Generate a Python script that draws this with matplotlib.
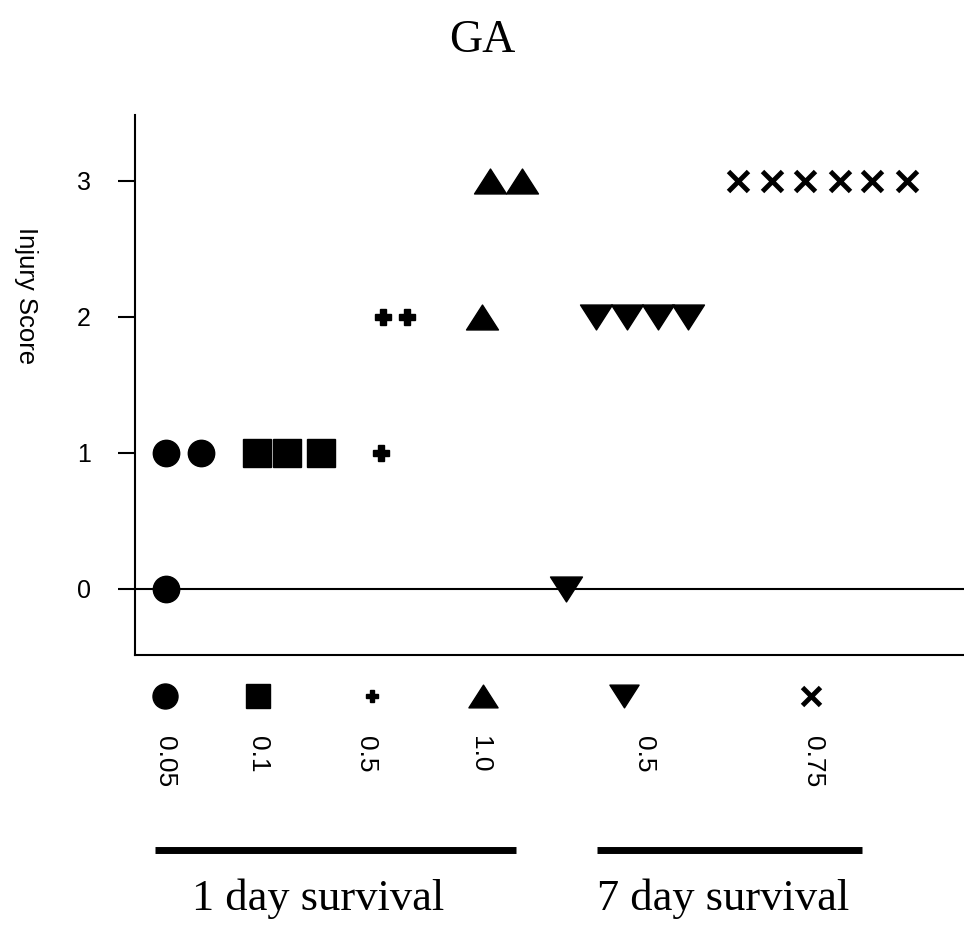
import numpy as np
import matplotlib.pyplot as plt
from matplotlib.path import Path

plt.rcParams['font.family'] = ['Liberation Sans', 'DejaVu Sans']

# injury scores per group (x = plotting slot, spread so symbols don't overlap)
circ_x = [0.9, 0.9, 1.95]
circ_y = [0, 1, 1]
sq_x = [3.6, 4.47, 5.47]
sq_y = [1, 1, 1]
plus_x = [7.25, 7.3, 8.0]
plus_y = [1, 2, 2]
up_x = [10.2, 10.45, 11.4]
up_y = [2, 3, 3]
down_x = [12.7, 13.57, 14.48, 15.38, 16.27]
down_y = [0, 2, 2, 2, 2]
cross_x = [17.75, 18.75, 19.72, 20.75, 21.7, 22.72]
cross_y = [3, 3, 3, 3, 3, 3]

# key below the axis: dose labels
key_x = [0.88, 3.62, 6.97, 10.24, 14.4, 19.9]
key_lab_x = [0.88, 3.62, 6.8, 10.15, 14.97, 19.97]
key_labels = ['0.05', '0.1', '0.5', '1.0', '0.5', '0.75']
groups = ['1 day survival', '7 day survival']
group_span = [(0.6, 11.2), (13.6, 21.4)]
group_text_x = [5.4, 17.3]

# wide triangles like the original symbols
tri_up = Path([(-1, -0.78), (1, -0.78), (0, 0.78), (-1, -0.78)], closed=True)
tri_dn = Path([(-1, 0.78), (1, 0.78), (0, -0.78), (-1, 0.78)], closed=True)

fig = plt.figure(figsize=(9.64, 9.49), dpi=100)
ax = fig.add_axes([0.140, 0.310, 0.860, 0.569])

k = dict(color='black', linestyle='none', clip_on=False)
ax.plot(circ_x, circ_y, marker='o', ms=19, **k)
ax.plot(sq_x, sq_y, marker='s', ms=19.5, **k)
ax.plot(plus_x, plus_y, marker='P', ms=11, **k)
ax.plot(up_x, up_y, marker=tri_up, ms=23, **k)
ax.plot(down_x, down_y, marker=tri_dn, ms=23, **k)
ax.plot(cross_x, cross_y, marker='x', ms=14, mew=3.5, **k)

ax.axhline(0, color='black', lw=1.5, zorder=0)

ax.set_xlim(0, 24.4)
ax.set_ylim(-0.485, 3.485)
ax.set_yticks([0, 1, 2, 3])
ax.set_xticks([])
ax.tick_params(axis='y', length=12, width=1.5, labelsize=18, pad=20)
for s in ['top', 'right']:
    ax.spines[s].set_visible(False)
for s in ['left', 'bottom']:
    ax.spines[s].set_linewidth(1.5)
ax.set_ylabel('Injury Score', rotation=-90, fontsize=18.5, va='center')
ax.yaxis.set_label_coords(-0.131, 0.665)

# symbol key under the axis
key_y = -0.79
km = [('o', 18, {}), ('s', 17, {}), ('P', 9, {}), (tri_up, 21, {}),
      (tri_dn, 21, {}), ('x', 13, {'mew': 3.5})]
for x, (m, ms, extra) in zip(key_x, km):
    ax.plot([x], [key_y], marker=m, ms=ms, **extra, **k)
for x, lab in zip(key_lab_x, key_labels):
    ax.text(x, -1.08, lab, rotation=-90, fontsize=19, ha='center', va='top')

for (x0, x1), tx, g in zip(group_span, group_text_x, groups):
    ax.plot([x0, x1], [-1.92, -1.92], color='black', lw=5, clip_on=False,
            solid_capstyle='butt')
    ax.text(tx, -2.36, g, fontsize=32, family='Liberation Serif',
            ha='center', va='baseline')

fig.text(0.5, 0.945, 'GA', fontsize=33, family='Liberation Serif',
         ha='center', va='baseline')

fig.savefig('out.png', dpi=100)
